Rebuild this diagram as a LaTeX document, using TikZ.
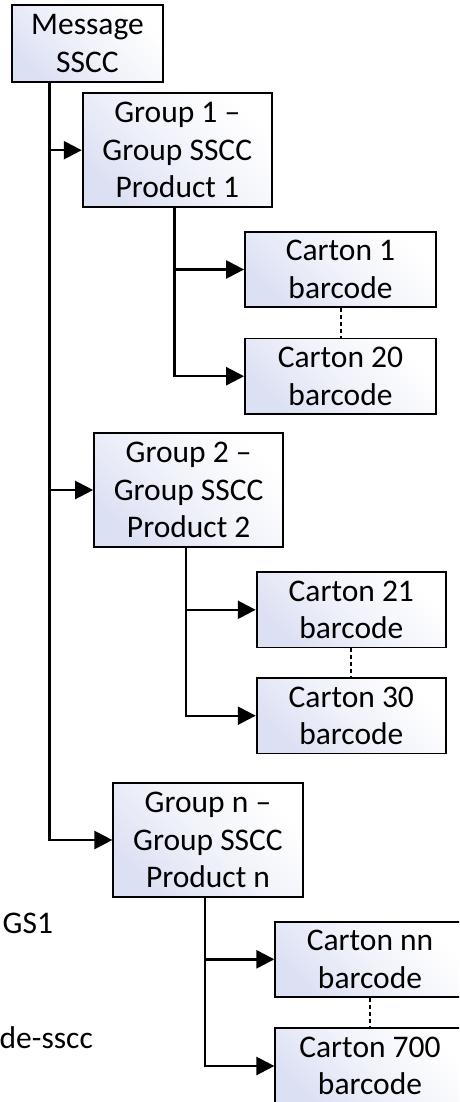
\documentclass[tikz,border=0pt]{standalone}
\usepackage{fontspec}
\setmainfont{Carlito}
\usetikzlibrary{arrows.meta}
\definecolor{tint}{RGB}{220,224,243}
\tikzset{
  box/.style={draw=black, line width=1.8pt, inner sep=0pt, align=center,
    top color=tint, bottom color=white, middle color=white!60!tint, shading angle=135,
    font=\fontsize{31.5}{37.5}\selectfont},
  conn/.style={line width=2.4pt},
  arr/.style={conn, -{Triangle[length=18pt,width=18pt]}},
  dots/.style={line width=2pt, dash pattern=on 4pt off 3pt},
  free/.style={inner sep=0pt, font=\fontsize{31.5}{37.5}\selectfont}
}
\begin{document}
\begin{tikzpicture}[x=1pt,y=-1pt]
\useasboundingbox (0,0) rectangle (459,1102);
\clip (0,0) rectangle (459,1102);
\node[box, minimum width=151pt, minimum height=77pt] (msg) at (87.5,43.5) {Message\\SSCC};
\node[box, minimum width=189.3pt, minimum height=113.7pt] (g1) at (177.3,150.2) {Group 1 --\\Group SSCC\\Product 1};
\node[box, minimum width=191pt, minimum height=75.6pt] (c1) at (340.5,269.5) {Carton 1\\barcode};
\node[box, minimum width=191pt, minimum height=75.6pt] (c20) at (340.5,376.2) {Carton 20\\barcode};
\node[box, minimum width=189.3pt, minimum height=113.7pt] (g2) at (188.7,490) {Group 2 --\\Group SSCC\\Product 2};
\node[box, minimum width=189.3pt, minimum height=75.5pt] (c21) at (351.3,609.8) {Carton 21\\barcode};
\node[box, minimum width=189.3pt, minimum height=75.5pt] (c30) at (351.3,715.7) {Carton 30\\barcode};
\node[box, minimum width=189.4pt, minimum height=113.4pt] (gn) at (208,840) {Group n --\\Group SSCC\\Product n};
\node[box, minimum width=189.4pt, minimum height=75.4pt] (cnn) at (370,959.3) {Carton nn\\barcode};
\node[box, minimum width=189.4pt, minimum height=75.4pt] (c700) at (370,1066) {Carton 700\\barcode};
\node[free, anchor=west] (gs1) at (2.5,923) {GS1};
\node[free, anchor=west] (sscc) at (-0.5,1038) {de-sscc};
% trunk and branch points
\coordinate (t0) at (49.3,82);
\coordinate (t1) at (49.3,150.2);
\coordinate (t2) at (49.3,490);
\coordinate (a0) at (174.3,207);
\coordinate (a1) at (174.3,269.5);
\coordinate (b0) at (186,546.7);
\coordinate (b1) at (186,609.8);
\coordinate (n0) at (205,896.7);
\coordinate (n1) at (205,959.3);
% main trunk
\draw[conn] (t0) -- (t2);
\draw[arr] (t0) |- (gn.west);
\draw[arr] (t1) -- (g1.west);
\draw[arr] (t2) -- (g2.west);
% group 1
\draw[arr] (a0) |- (c20.west);
\draw[arr] (a1) -- (c1.west);
\draw[dots] (c1.south) -- (c20.north);
% group 2
\draw[arr] (b0) |- (c30.west);
\draw[arr] (b1) -- (c21.west);
\draw[dots] (c21.south) -- (c30.north);
% group n
\draw[arr] (n0) |- (c700.west);
\draw[arr] (n1) -- (cnn.west);
\draw[dots] (cnn.south) -- (c700.north);
\end{tikzpicture}
\end{document}
